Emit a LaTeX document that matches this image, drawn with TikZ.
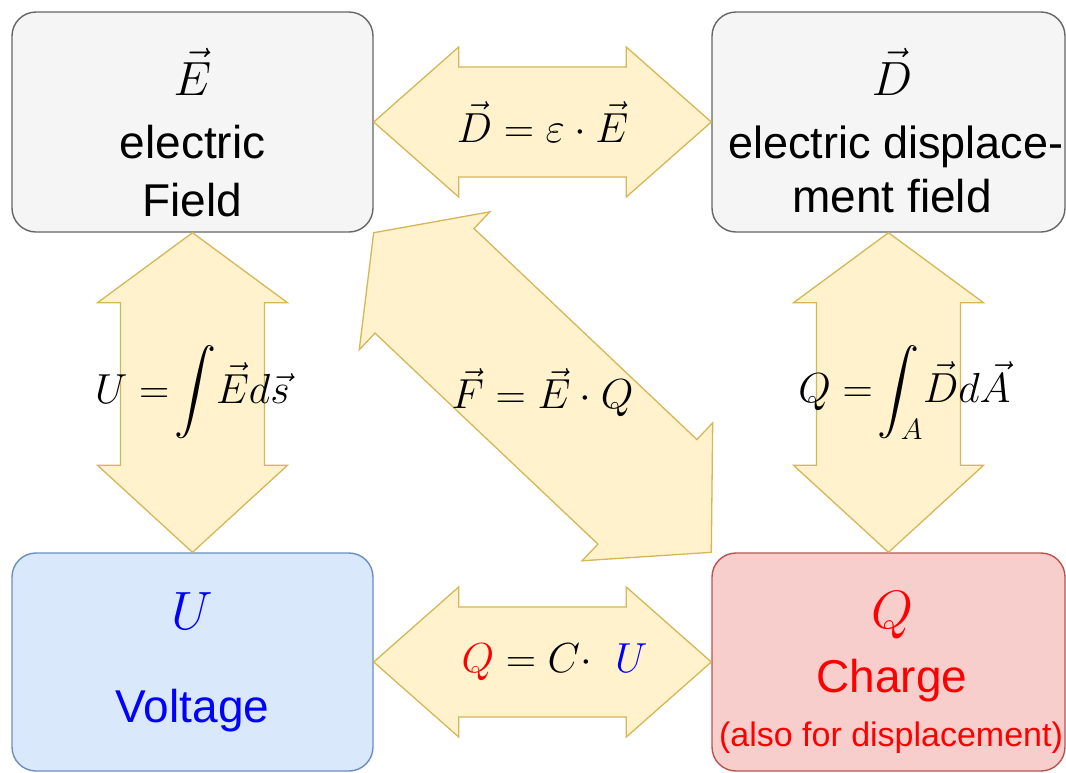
\RequirePackage{fix-cm}
\documentclass[tikz,border=0pt]{standalone}
\usepackage{fontspec}
\setmainfont{Liberation Sans}
\DeclareFontFamily{OMX}{cmex}{}
\DeclareFontShape{OMX}{cmex}{m}{n}{<->cmex10}{}
\usetikzlibrary{calc,positioning}
\definecolor{fog}{HTML}{F5F5F5}
\definecolor{slate}{HTML}{666666}
\definecolor{sky}{HTML}{DAE8FC}
\definecolor{steel}{HTML}{6C8EBF}
\definecolor{blush}{HTML}{F8CECC}
\definecolor{rust}{HTML}{B85450}
\definecolor{cream}{HTML}{FFF2CC}
\definecolor{gold}{HTML}{D6B656}
\tikzset{
  box/.style 2 args={draw=#1,fill=#2,line width=1.4pt,rounded corners=24pt,
    minimum width=361pt,minimum height=220pt,inner sep=0pt},
  fat/.style={draw=gold,fill=cream,line width=1.3pt},
  word/.style={font=\fontsize{46}{50}\selectfont,inner sep=0pt,anchor=base},
  sym/.style={font=\fontsize{#1}{#1}\selectfont,inner sep=0pt,anchor=base},
  sym/.default=48,
  formula/.style={font=\fontsize{42}{46}\selectfont,inner sep=0pt},
}
% block arrow with two heads: tips, head lengths, head and shaft half widths
\newcommand\fatarrow[6]{%
  \path ($(#1)!#3!(#2)$) coordinate (fa) ($(#2)!#4!(#1)$) coordinate (fb);
  \filldraw[fat] (#1)
    -- ($(fa)!#5!90:(#1)$) -- ($(fa)!#6!90:(#1)$)
    -- ($(fb)!#6!-90:(#2)$) -- ($(fb)!#5!-90:(#2)$)
    -- (#2)
    -- ($(fb)!#5!90:(#2)$) -- ($(fb)!#6!90:(#2)$)
    -- ($(fa)!#6!-90:(#1)$) -- ($(fa)!#5!-90:(#1)$)
    -- cycle;
}
\begin{document}
\begin{tikzpicture}[x=1pt,y=-1pt]
  \useasboundingbox (0,0) rectangle (1066,772);
  % the four quantities
  \node[box={slate}{fog}] (eField) at (192.5,122) {};
  \node[box={slate}{fog},minimum width=353pt] (dField) at (888.5,122) {};
  \node[box={steel}{sky},minimum height=218pt] (volt) at (192.5,662) {};
  \node[box={rust}{blush},minimum width=353pt,minimum height=218pt] (charge) at (888.5,662) {};
  % relations
  \fatarrow{eField.east}{dField.west}{85pt}{85pt}{75pt}{55pt}
  \fatarrow{volt.east}{charge.west}{85pt}{85pt}{75pt}{55pt}
  \fatarrow{eField.south}{volt.north}{70pt}{87pt}{95pt}{72pt}
  \fatarrow{dField.south}{charge.north}{70pt}{87pt}{95pt}{72pt}
  \fatarrow{eField.south east}{charge.north west}{70pt}{88pt}{95pt}{72pt}
  \node[formula] (lawDE) at ($(eField.east)!.5!(dField.west)$) {$\vec D=\varepsilon\cdot\vec E$};
  \node[formula,xshift=12pt] (lawQU) at ($(volt.east)!.5!(charge.west)$) {${\color{red}Q}=C{\cdot}\ \ {\color{blue}U}$};
  \node[formula] (lawUE) at ($(eField.south)!.5!(volt.north)$) {$\displaystyle U=\!\int\!\vec E d\vec s$};
  \node[formula,xshift=16pt] (lawQD) at ($(dField.south)!.5!(charge.north)$) {$\displaystyle Q=\!\int_A\!\vec D d\vec A$};
  \node[formula] (lawFE) at ($(eField.south east)!.5!(charge.north west)$) {$\vec F=\vec E\cdot Q$};
  % box texts
  \node[sym] (eSym) at (192.5,95) {$\vec E$};
  \node[word] (eLine1) at (192.5,158) {electric};
  \node[word] (eLine2) at (192.5,216) {Field};
  \node[sym] (dSym) at (892,95) {$\vec D$};
  \node[word,font=\fontsize{45}{50}\selectfont] (dLine1) at (896,158) {electric displace-};
  \node[word] (dLine2) at (892,212) {ment field};
  \node[sym=54,text=blue] (uSym) at (192.5,629) {$U$};
  \node[word,text=blue] (uWord) at (192.5,722) {Voltage};
  \node[sym=54,text=red] (qSym) at (892,628) {$Q$};
  \node[word,text=red] (qWord) at (892,692) {Charge};
  \node[word,text=red,font=\fontsize{34}{36}\selectfont] (qNote) at (891,746) {(also for displacement)};
\end{tikzpicture}
\end{document}
